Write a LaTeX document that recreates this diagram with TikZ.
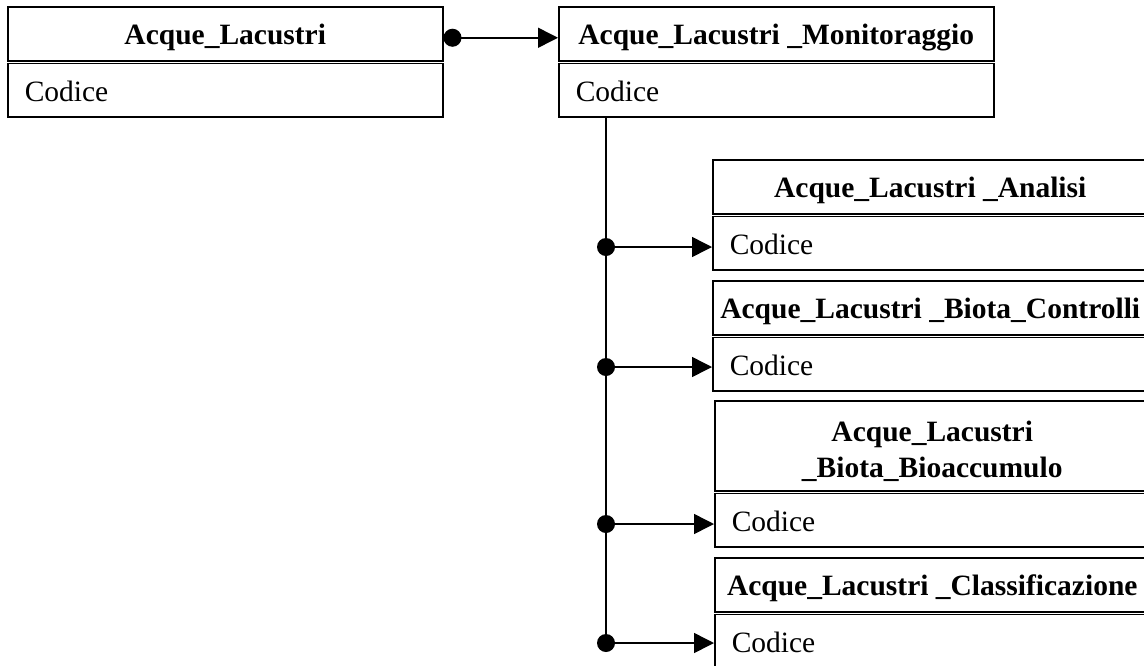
\documentclass[tikz,border=0pt]{standalone}
\usepackage{fontspec}
\setmainfont{Liberation Serif}
\usetikzlibrary{arrows.meta}
\begin{document}
\begin{tikzpicture}[x=1pt,y=-1pt,
  head/.style={draw, line width=1.5pt, minimum width=435pt, minimum height=54pt,
    inner sep=0pt, text height=25pt, text depth=3pt, anchor=north west,
    font=\fontsize{29.5}{35.5}\selectfont\bfseries},
  body/.style={draw, line width=1.5pt, minimum height=53.5pt, inner xsep=17pt,
    inner ysep=0pt, text width=401pt, align=left, text height=25pt, text depth=3pt,
    anchor=north west, font=\fontsize{29.5}{35.5}\selectfont},
  line/.style={line width=1.5pt},
  conn/.style={line width=1.5pt, -{Triangle[length=20pt,width=20pt]}},
  dot/.style={fill=black}
]
\useasboundingbox (0,0) rectangle (1144,665);
\clip (0,0) rectangle (1144,665);
% boxes
\node[head] (b1h) at (7,6) {Acque\_Lacustri};
\node[body] (b1b) at (7,62.5) {Codice};
\node[head] (b2h) at (558,6) {Acque\_Lacustri \_Monitoraggio};
\node[body] (b2b) at (558,62.5) {Codice};
\node[head] (b3h) at (712,159) {Acque\_Lacustri \_Analisi};
\node[body] (b3b) at (712,215.5) {Codice};
\node[head] (b4h) at (712,280) {Acque\_Lacustri \_Biota\_Controlli};
\node[body] (b4b) at (712,336.5) {Codice};
\node[head, minimum height=90pt, text width=435pt, align=center, text height=20pt, text depth=28pt] (b5h) at (714,400) {Acque\_Lacustri\\\_Biota\_Bioaccumulo};
\node[body] (b5b) at (714,492.5) {Codice};
\node[head] (b6h) at (714,557) {Acque\_Lacustri \_Classificazione};
\node[body] (b6b) at (714,613.5) {Codice};
% connector top
\draw[line, {Circle[length=18pt]}-{Triangle[length=20pt,width=20pt]}]
  ([yshift=-4pt]b1h.east) -- ([yshift=-4pt]b2h.west);
% bus
\coordinate (j1) at (606,247);
\coordinate (j2) at (606,367);
\coordinate (j3) at (606,524);
\coordinate (j4) at (606,643);
\draw[line] (b2b.south -| j1) -- (j4);
\draw[conn] (j1) -- (b3b.west |- j1);
\draw[conn] (j2) -- (b4b.west |- j2);
\draw[conn] (j3) -- (b5b.west |- j3);
\draw[conn] (j4) -- (b6b.west |- j4);
\foreach \j in {j1,j2,j3,j4} \fill[dot] (\j) circle[radius=9pt];
\end{tikzpicture}
\end{document}
